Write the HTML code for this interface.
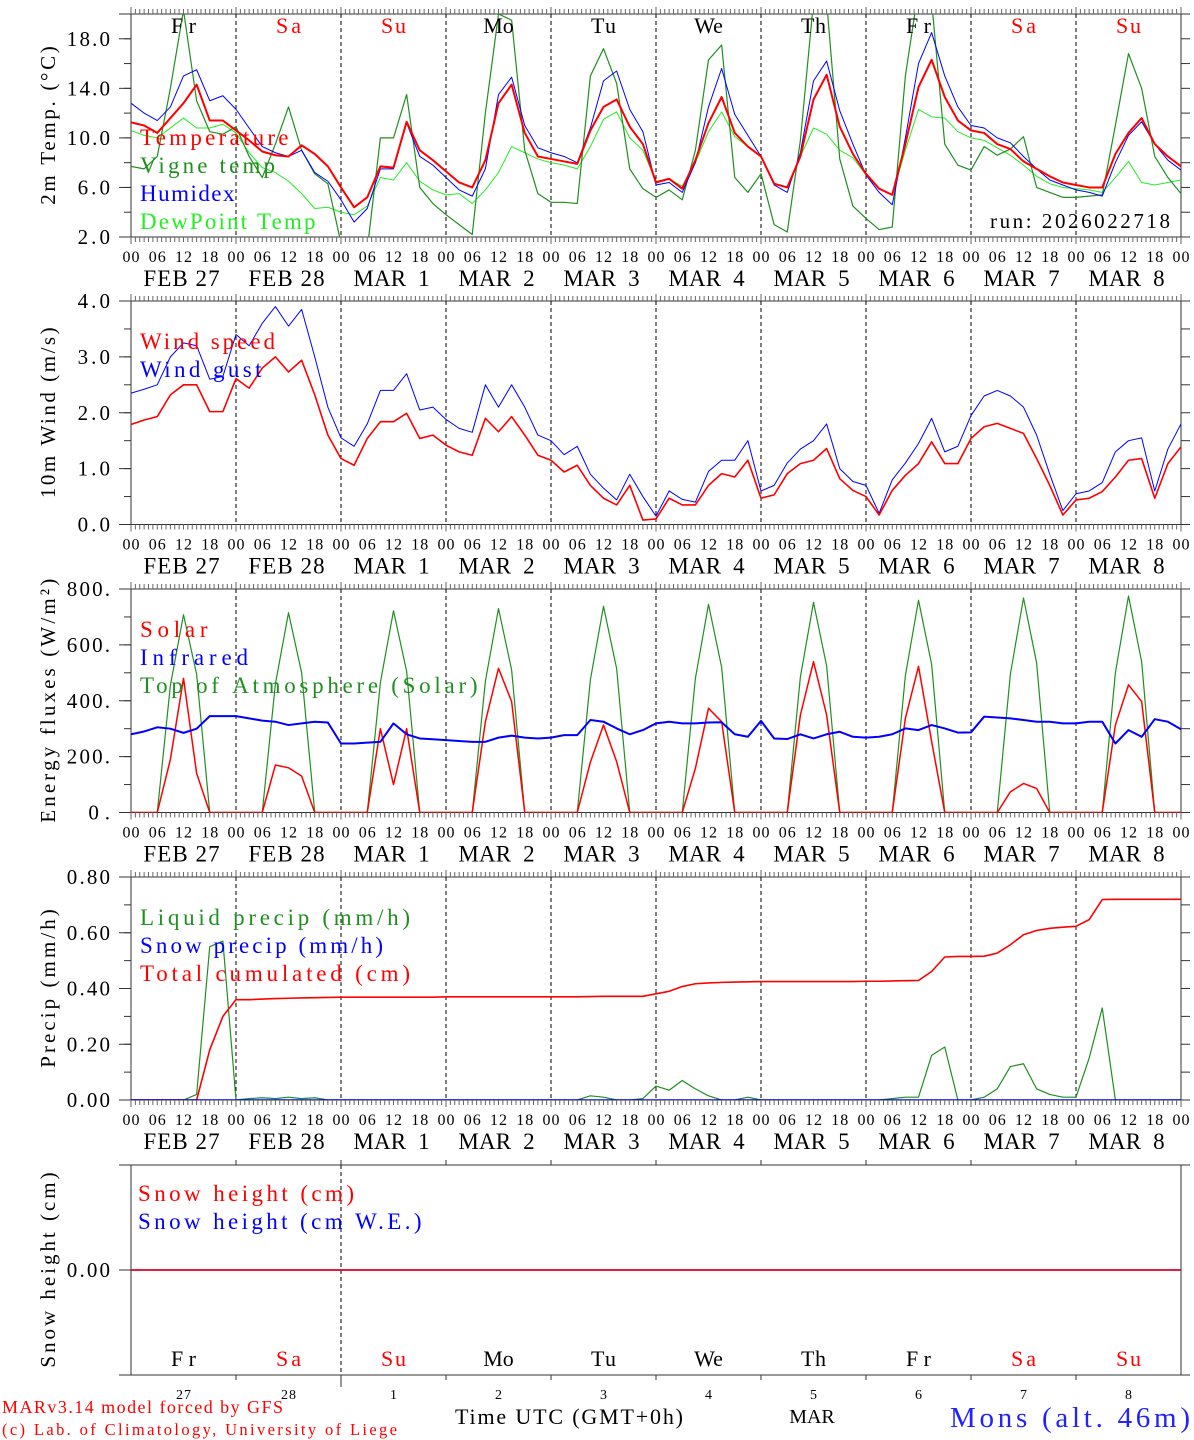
<!DOCTYPE html>
<html><head><meta charset="utf-8">
<style>
html,body{margin:0;padding:0;background:#fff;}
svg{display:block;}
text{font-family:"Liberation Serif","DejaVu Serif",serif;}
</style></head>
<body>
<svg id="chart" xmlns="http://www.w3.org/2000/svg" width="1194" height="1440" viewBox="0 0 1194 1440"></svg>
<script>
// ---------- DATA (3-hourly, 81 values from FEB 27 00 UTC to MAR 9 00 UTC) ----------
const dayNames = ["Fr","Sa","Su","Mo","Tu","We","Th","Fr","Sa","Su"];
const dayMonths = ["FEB","FEB","MAR","MAR","MAR","MAR","MAR","MAR","MAR","MAR"];
const dayNums = [27,28,1,2,3,4,5,6,7,8];
const hourLabels = ["00","06","12","18"];
const tempTicks = [2,6,10,14,18];
const windTicks = [0,1,2,3,4];
const fluxTicks = [0,200,400,600,800];
const precipTicks = [0,0.2,0.4,0.6,0.8];

const temperature = [11.25,11.0,10.4,11.6,12.8,14.3,11.4,11.4, 10.6,9.8,8.9,8.6,8.5,9.4,8.7,7.7, 6.0,4.4,5.2,7.7,7.6,11.3,9.0,8.2, 7.3,6.4,6.0,8.2,12.8,14.3,10.4,8.5, 8.3,8.1,7.9,10.6,12.5,13.1,10.9,9.5, 6.4,6.7,5.9,8.2,11.2,13.3,10.4,9.3, 8.5,6.3,6.0,8.5,13.1,15.1,10.9,8.7, 7.1,5.9,5.4,9.5,14.1,16.3,13.3,11.4, 10.6,10.4,9.5,9.1,8.1,7.5,6.9,6.4, 6.2,6.0,6.0,8.7,10.4,11.6,9.5,8.5,7.7];
const vigneTemp = [7.7,7.5,8.5,14,20.3,13,10.5,10.3, 10.9,8.5,6.8,9.5,12.5,9,7.1,6.3, 1.5,0,1.0,10,10,13.5,6,4.7, 3.8,3,2.2,12,20,19.5,9,5.5, 4.8,4.8,4.7,15,17.2,14.4,7.5,5.9, 5.2,5.8,5.0,9,16.3,17.5,6.8,5.6, 7.1,3,2.4,9.8,21,21,8.3,4.5, 3.5,2.6,2.8,15,22,21,9.5,7.8, 7.4,9.3,8.6,9.1,10.1,6,5.6,5.2, 5.2,5.3,5.4,11,16.8,14,8.5,6.8,5.5];
const humidex = [12.8,12.0,11.4,12.5,15.0,15.5,13.0,13.4, 12.3,10.8,9.3,8.8,8.5,9.0,7.2,6.5, 5.0,3.2,4.3,7.5,7.5,11.2,8.5,7.8, 6.8,5.8,5.3,7.5,13.5,14.9,11.0,9.2, 8.8,8.5,8.0,10.8,14.6,15.4,12.3,10.5, 6.2,6.4,5.6,8.0,12.5,15.6,11.9,10.2, 8.5,6.2,5.6,8.8,14.6,16.2,12.2,9.5, 7.0,5.6,4.6,10.0,16.0,18.5,15.0,12.5, 11.0,10.8,10.0,9.6,8.5,7.5,6.6,6.2, 5.8,5.6,5.3,8.0,10.2,11.3,9.5,8.2,7.4];
const dewPoint = [10.6,10.2,10.0,10.8,11.6,10.8,10.8,11.1, 10.4,8.8,7.6,7.2,6.5,5.5,4.3,4.4, 4.0,3.8,4.5,6.8,6.6,8.0,6.5,5.8, 5.4,5.5,4.7,5.8,7.2,9.3,8.8,8.3, 8.0,7.8,7.5,9.3,11.5,12.1,10.0,9.0, 6.5,6.7,6.1,8.0,10.5,12.1,10.1,9.3, 8.5,6.3,6.0,8.5,10.8,10.3,9.0,8.4, 7.0,5.9,5.4,9.0,12.3,11.7,11.6,10.5, 10.0,9.8,9.2,8.6,7.8,6.9,6.3,6.0, 5.9,5.8,5.6,6.8,8.1,6.4,6.2,6.4,6.6];

const windSpeed = [1.79,1.87,1.93,2.32,2.5,2.5,2.02,2.02, 2.61,2.44,2.8,3.0,2.73,2.94,2.32,1.6, 1.18,1.06,1.54,1.84,1.84,1.99,1.54,1.6, 1.42,1.3,1.24,1.9,1.66,1.93,1.6,1.24, 1.15,0.94,1.06,0.7,0.47,0.35,0.7,0.08, 0.1,0.47,0.35,0.35,0.7,0.91,0.85,1.15, 0.47,0.53,0.91,1.09,1.15,1.36,0.82,0.61, 0.5,0.17,0.61,0.88,1.09,1.48,1.09,1.09, 1.54,1.75,1.81,1.72,1.63,1.18,0.7,0.17, 0.44,0.47,0.59,0.85,1.15,1.18,0.47,1.09,1.39];
const windGust = [2.35,2.42,2.5,3.0,3.25,3.2,2.6,2.65, 3.4,3.2,3.6,3.9,3.55,3.85,3.0,2.1, 1.55,1.4,1.8,2.4,2.4,2.7,2.05,2.1, 1.88,1.72,1.65,2.5,2.1,2.5,2.1,1.6, 1.5,1.25,1.4,0.9,0.65,0.44,0.9,0.5, 0.15,0.6,0.45,0.4,0.95,1.15,1.15,1.5, 0.6,0.7,1.1,1.35,1.5,1.8,1.0,0.77, 0.7,0.2,0.8,1.1,1.45,1.9,1.3,1.4, 1.95,2.3,2.4,2.3,2.1,1.6,0.9,0.25, 0.55,0.6,0.75,1.3,1.5,1.55,0.6,1.35,1.8];

const solar = [0,0,0,190,480,140,0,0, 0,0,0,170,160,130,0,0, 0,0,0,300,100,300,0,0, 0,0,0,325,516,397,0,0, 0,0,0,180,313,182,0,0, 0,0,0,158,373,325,0,0, 0,0,0,349,540,349,0,0, 0,0,0,337,523,254,0,0, 0,0,0,74,104,86,0,0, 0,0,0,313,457,397,0,0,0];
const infrared = [280,290,305,300,285,300,345,345, 345,337,329,325,313,319,325,322, 247,247,250,253,319,280,265,262, 259,256,253,253,268,275,268,265, 268,277,277,331,325,301,280,295, 319,325,319,319,322,323,280,271, 328,265,263,280,265,280,289,271, 268,271,280,301,295,313,301,286, 287,343,340,337,331,325,325,319, 319,325,325,247,295,271,334,325,298];
const topAtmosphere = [0,0,0,455,708,495,0,0, 0,0,0,460,715,500,0,0, 0,0,0,465,722,505,0,0, 0,0,0,470,730,510,0,0, 0,0,0,475,738,515,0,0, 0,0,0,480,745,520,0,0, 0,0,0,485,752,525,0,0, 0,0,0,490,760,530,0,0, 0,0,0,495,768,535,0,0, 0,0,0,500,775,540,0,0,0];

const liquidPrecip = [0,0,0,0,0,0.02,0.55,0.57, 0,0.005,0.008,0.005,0.01,0.005,0.008,0, 0,0,0,0,0,0,0,0, 0,0,0,0,0,0,0,0, 0,0,0,0.015,0.01,0,0,0.005, 0.05,0.035,0.07,0.04,0.015,0,0,0.01, 0,0,0,0,0,0,0,0, 0,0,0.005,0.01,0.01,0.16,0.19,0, 0,0.01,0.04,0.12,0.13,0.04,0.02,0.01, 0.01,0.15,0.33,0,0,0,0,0,0];
const snowPrecip = [0,0,0,0,0,0,0,0, 0,0,0,0,0,0,0,0, 0,0,0,0,0,0,0,0, 0,0,0,0,0,0,0,0, 0,0,0,0,0,0,0,0, 0,0,0,0,0,0,0,0, 0,0,0,0,0,0,0,0, 0,0,0,0,0,0,0,0, 0,0,0,0,0,0,0,0, 0,0,0,0,0,0,0,0,0];
const totalCumulated = [0,0,0,0,0,0,0.18,0.3, 0.36,0.36,0.362,0.364,0.365,0.366,0.367,0.368, 0.369,0.369,0.369,0.369,0.369,0.369,0.369,0.369, 0.37,0.37,0.37,0.37,0.37,0.37,0.37,0.37, 0.37,0.37,0.37,0.371,0.372,0.372,0.372,0.372, 0.381,0.39,0.407,0.417,0.42,0.422,0.423,0.424, 0.425,0.425,0.425,0.425,0.425,0.425,0.425,0.425, 0.426,0.426,0.427,0.428,0.429,0.461,0.513,0.515, 0.515,0.516,0.527,0.557,0.593,0.608,0.616,0.62, 0.623,0.647,0.719,0.72,0.72,0.72,0.72,0.72,0.72];
const snowHeight = [0,0,0,0,0,0,0,0, 0,0,0,0,0,0,0,0, 0,0,0,0,0,0,0,0, 0,0,0,0,0,0,0,0, 0,0,0,0,0,0,0,0, 0,0,0,0,0,0,0,0, 0,0,0,0,0,0,0,0, 0,0,0,0,0,0,0,0, 0,0,0,0,0,0,0,0, 0,0,0,0,0,0,0,0,0];
const snowWE = snowHeight.slice();

// ---------- GEOMETRY ----------
const NS = "http://www.w3.org/2000/svg";
const svg = document.getElementById("chart");
const X0 = 131, X1 = 1181, STEP_H = 3, TOTAL_H = 240;
function xs(h){ return X0 + h*(X1-X0)/TOTAL_H; }
function yScale(p, v){ return p.bottom - (v - p.vmin)*(p.bottom - p.top)/(p.vmax - p.vmin); }

const P1 = {top:14, bottom:237, vmin:2, vmax:20};
const P2 = {top:301, bottom:524.5, vmin:0, vmax:4};
const P3 = {top:589, bottom:812.5, vmin:0, vmax:800};
const P4 = {top:877, bottom:1100, vmin:0, vmax:0.8};
const P5 = {top:1165, bottom:1375, vmin:-1, vmax:1};

function mk(tag, attrs, parent){
  const e = document.createElementNS(NS, tag);
  for (const k in attrs) e.setAttribute(k, attrs[k]);
  (parent||svg).appendChild(e);
  return e;
}
function txt(str, x, y, size, fill, anchor, parent, name, adv){
  const t = mk("text", {x:x, y:y, "font-size":size, fill:fill, "text-anchor":anchor||"start"}, parent);
  t.textContent = str.replace(/ /g, "\u00A0");
  
  
  const a = adv || size*0.6;
  const target = str.length*a;
  let natural = 0;
  try { natural = t.getComputedTextLength(); } catch(e) { natural = 0; }
  if (natural > 0 && natural < target) {
    t.setAttribute("textLength", target.toFixed(1));
    t.setAttribute("lengthAdjust", "spacing");
  }
  return t;
}

let clipId = 0;
function drawFrame(p, pname, ticks, minorStep, fmt, title, hourly){
  const g = mk("g", {});
  
  
  const ax = mk("g", {stroke:"#333", "stroke-width":1, fill:"none"}, g);
  
  
  mk("line", {x1:119, y1:p.top, x2:1190, y2:p.top}, ax);
  mk("line", {x1:119, y1:p.bottom, x2:1190, y2:p.bottom}, ax);
  mk("line", {x1:X0, y1:p.top, x2:X0, y2:p.bottom}, ax);
  mk("line", {x1:X1, y1:p.top, x2:X1, y2:p.bottom}, ax);
  if (minorStep){
    for (let v = p.vmin; v <= p.vmax + 1e-9; v += minorStep){
      const y = yScale(p, v);
      mk("line", {x1:124, y1:y, x2:X0, y2:y}, ax);
      mk("line", {x1:X1, y1:y, x2:1190, y2:y}, ax);
    }
  }
  ticks.forEach(v => {
    const y = yScale(p, v);
    mk("line", {x1:119, y1:y, x2:X0, y2:y}, ax);
    txt(fmt(v), 110, y + 7, 21, "#000", "end", g, pname + '-y-tick-label', 10.8);
  });
  const dg = mk("g", {stroke:"#000", "stroke-width":1, "stroke-dasharray":"4,3"}, g);
  
  
  for (let d = 1; d < dayNums.length; d++){
    if (!hourly && d !== 2) continue;
    mk("line", {x1:xs(d*24), y1:p.top, x2:xs(d*24), y2:p.bottom}, dg);
  }
  if (hourly){
    const tg = mk("g", {stroke:"#666", "stroke-width":1}, g);
    
    
    for (let h = 0; h <= TOTAL_H; h++){
      const len = (h % 24 === 0) ? 7 : 5;
      mk("line", {x1:xs(h), y1:p.top - len, x2:xs(h), y2:p.top}, tg);
      mk("line", {x1:xs(h), y1:p.bottom, x2:xs(h), y2:p.bottom + len}, tg);
    }
    for (let h = 0; h <= TOTAL_H; h += 6){
      txt(hourLabels[(h/6)%4], xs(h), p.bottom + 25, 16, "#000", "middle", g, pname + '-hour-label', 8.5);
    }
    for (let d = 0; d < dayNums.length; d++){
      const dn = String(dayNums[d]).padStart(2, " ");
      txt(dayMonths[d] + " " + dn, xs(d*24 + 12) - 2, p.bottom + 49, 23, "#000", "middle", g, pname + '-date-label', 12.7);
    }
  }
  const tt = txt(title, 0, 0, 21, "#000", "middle", g, pname + '-y-axis-title', 12.2);
  tt.setAttribute("transform", "translate(55," + ((p.top + p.bottom)/2) + ") rotate(-90)");
  clipId++;
  const cp = mk("clipPath", {id:"clip" + clipId}, g);
  mk("rect", {x:X0, y:p.top, width:X1 - X0, height:p.bottom - p.top}, cp);
  const sg = mk("g", {"clip-path":"url(#clip" + clipId + ")"}, g);
  
  
  return sg;
}
function series(p, parent, values, color, width, name){
  const pts = values.map((v, i) => xs(i*STEP_H).toFixed(2) + "," + yScale(p, v).toFixed(2)).join(" ");
  const pl = mk("polyline", {points:pts, fill:"none", stroke:color, "stroke-width":width, "stroke-linejoin":"round"}, parent);
  
  
  return pl;
}
function legend(items, x, y0, parent, pname){
  items.forEach((it, i) => {
    txt(it[0], x, y0 + i*28, 23, it[1], "start", parent, pname + '-legend-entry', 13.5);
  });
}

const RED = "#ff0000", BLUE = "#0000ff", DGREEN = "#1f8f1f", LGREEN = "#22ee22";

const s1 = drawFrame(P1, "temperature", tempTicks, 2, v => v.toFixed(1), "2m Temp. (\u00B0C)", true);
series(P1, s1, dewPoint, LGREEN, 1, "dewpoint-line");
series(P1, s1, vigneTemp, DGREEN, 1.2, "vigne-temp-line");
series(P1, s1, humidex, BLUE, 1, "humidex-line");
series(P1, s1, temperature, RED, 2, "temperature-line");
for (let d = 0; d < dayNames.length; d++){
  const wk = dayNames[d] === "Sa" || dayNames[d] === "Su";
  txt(dayNames[d], xs(d*24 + 12), 33, 22, wk ? RED : "#000", "middle", svg, 'day-name-top', 12.5);
}
legend([["Temperature", RED], ["Vigne temp", DGREEN], ["Humidex", BLUE], ["DewPoint Temp", LGREEN]], 140, 145, svg, "temperature");
txt("run: 2026022718", 1170, 228, 21, "#000", "end", svg, 'run-label', 12);

const s2 = drawFrame(P2, "wind", windTicks, 0.5, v => v.toFixed(1), "10m Wind (m/s)", true);
series(P2, s2, windGust, BLUE, 1, "wind-gust-line");
series(P2, s2, windSpeed, RED, 1.6, "wind-speed-line");
legend([["Wind speed", RED], ["Wind gust", BLUE]], 140, 349, svg, "wind");

const s3 = drawFrame(P3, "energy", fluxTicks, 100, v => v.toFixed(0) + ".", "Energy fluxes (W/m\u00B2)", true);
series(P3, s3, topAtmosphere, DGREEN, 1.2, "toa-solar-line");
series(P3, s3, solar, RED, 1.5, "solar-line");
series(P3, s3, infrared, BLUE, 2, "infrared-line");
legend([["Solar", RED], ["Infrared", BLUE], ["Top of Atmosphere (Solar)", DGREEN]], 140, 637, svg, "energy");

const s4 = drawFrame(P4, "precip", precipTicks, 0.1, v => v.toFixed(2), "Precip (mm/h)", true);
series(P4, s4, liquidPrecip, DGREEN, 1.2, "liquid-precip-line");
series(P4, s4, totalCumulated, RED, 1.6, "total-cumulated-line");
series(P4, s4, snowPrecip, BLUE, 1.5, "snow-precip-line");
legend([["Liquid precip (mm/h)", DGREEN], ["Snow precip (mm/h)", BLUE], ["Total cumulated (cm)", RED]], 140, 925, svg, "precip");

const s5 = drawFrame(P5, "snow", [0], 0, v => v.toFixed(2), "Snow height (cm)", false);
series(P5, s5, snowWE, BLUE, 1.5, "snow-we-line");
series(P5, s5, snowHeight, RED, 1.6, "snow-height-line");
legend([["Snow height (cm)", RED], ["Snow height (cm W.E.)", BLUE]], 138, 1201, svg, "snow");
const dt = mk("g", {stroke:"#333", "stroke-width":1});


for (let d = 1; d < dayNums.length; d++){
  mk("line", {x1:xs(d*24), y1:P5.top - 5, x2:xs(d*24), y2:P5.top}, dt);
  mk("line", {x1:xs(d*24), y1:P5.bottom, x2:xs(d*24), y2:P5.bottom + (d === 2 ? 12 : 5)}, dt);
}
for (let d = 0; d < dayNames.length; d++){
  const wk = dayNames[d] === "Sa" || dayNames[d] === "Su";
  txt(dayNames[d], xs(d*24 + 12), 1366, 22, wk ? RED : "#000", "middle", svg, 'day-name-bottom', 12.5);
  txt(String(dayNums[d]), xs(d*24 + 12), 1399, 14, "#000", "middle", svg, 'day-number-label', 7.5);
}
</script>
<svg xmlns="http://www.w3.org/2000/svg" width="1194" height="1440" style="position:absolute;left:0;top:0;pointer-events:none">
  <text x="2" y="1413" font-size="18" fill="#ff0000" textLength="281" lengthAdjust="spacing" font-family="Liberation Serif, serif">MARv3.14 model forced by GFS</text>
  <text x="2" y="1435" font-size="16.5" fill="#ff0000" textLength="395" lengthAdjust="spacing" font-family="Liberation Serif, serif">(c) Lab. of Climatology, University of Liege</text>
  <text x="455" y="1424" font-size="22" fill="#000" textLength="228" lengthAdjust="spacing" font-family="Liberation Serif, serif">Time UTC (GMT+0h)</text>
  <text x="812" y="1423" font-size="20" fill="#000" text-anchor="middle" font-family="Liberation Serif, serif">MAR</text>
  <text x="950" y="1427" font-size="29" fill="#2222ff" textLength="240" lengthAdjust="spacing" font-family="Liberation Serif, serif">Mons (alt. 46m)</text>
</svg>
</body></html>
